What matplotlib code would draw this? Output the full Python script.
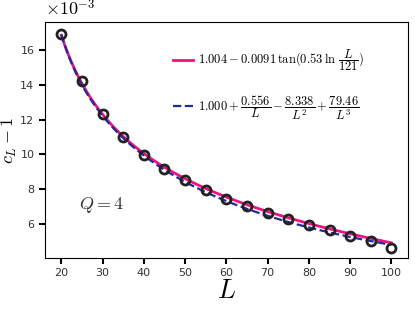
import numpy as np
import matplotlib
matplotlib.use('Agg')
import matplotlib.pyplot as plt

plt.rcParams['mathtext.fontset'] = 'cm'

# Messpunkte c_L - 1
L_data = [20, 25, 30, 35, 40, 45, 50, 55, 60, 65, 70, 75, 80, 85, 90, 95, 100]
cL_data = [16.9e-3, 14.2e-3, 12.3e-3, 11.0e-3, 9.95e-3, 9.15e-3, 8.5e-3, 7.95e-3,
           7.45e-3, 7.05e-3, 6.65e-3, 6.3e-3, 5.95e-3, 5.65e-3, 5.3e-3, 5.0e-3, 4.65e-3]

# Fit-Koeffizienten aus der Legende
tan_fit = [1.004, 0.0091, 0.53, 121]
poly_fit = [1.000, 0.556, 8.338, 79.46]

scale = 1e3  # Achse in Einheiten von 10^-3

L = np.linspace(20, 100, 300)
y1 = tan_fit[0] - tan_fit[1] * np.tan(tan_fit[2] * np.log(L / tan_fit[3])) - 1
y2 = poly_fit[0] + poly_fit[1] / L - poly_fit[2] / L**2 + poly_fit[3] / L**3 - 1

fig = plt.figure(figsize=(4.15, 3.09), dpi=100)
ax = fig.add_axes([0.108, 0.165, 0.875, 0.764])

ax.plot(L, y1 * scale, color='#f0127f', lw=2,
        label=r'$1.004-0.0091\,\tan(0.53\,\ln\,\dfrac{L}{121})$')
ax.plot(L, y2 * scale, color='#1f2a9c', lw=1.6, ls='--',
        label=r'$1.000+\dfrac{0.556}{L}-\dfrac{8.338}{L^2}+\dfrac{79.46}{L^3}$')
ax.plot(L_data, np.array(cL_data) * scale, 'o', mfc='none', mec='#222222', mew=2, ms=6.5)

ax.set_xlim(16, 104)
ax.set_ylim(4.05, 17.6)
ax.set_xticks([20, 30, 40, 50, 60, 70, 80, 90, 100])
ax.set_yticks([6, 8, 10, 12, 14, 16])
ax.tick_params(labelsize=8, length=4, width=1.5, direction='out', labelcolor='#333333')
ax.text(0, 1.01, r'$\times 10^{-3}$', transform=ax.transAxes, fontsize=13,
        va='bottom', ha='left')

ax.set_xlabel(r'$L$', fontsize=19, labelpad=0)
ax.set_ylabel(r'$c_L-1$', fontsize=13, labelpad=1)

ax.text(24.4, 7.1, r'$Q=4$', fontsize=13, va='center', color='#333333')

ax.legend(loc='upper right', frameon=False, fontsize=9, handlelength=1.6,
          handletextpad=0.4, labelspacing=1.6, bbox_to_anchor=(0.91, 0.94))

fig.savefig('out.png', dpi=100)
